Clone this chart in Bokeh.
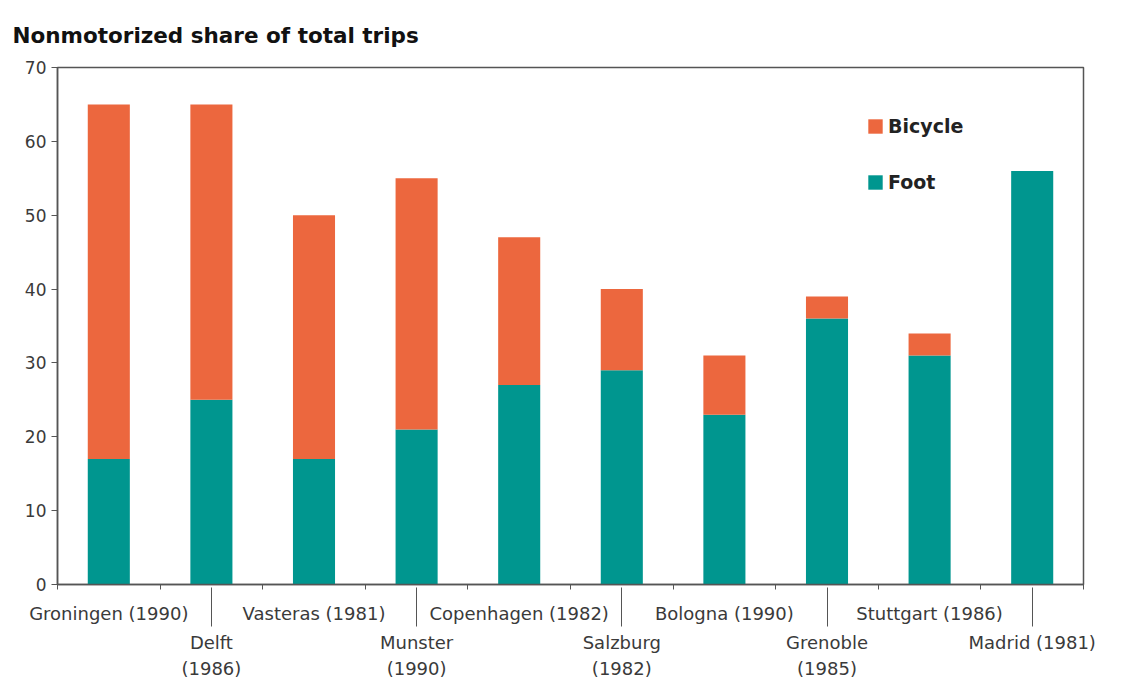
from bokeh.plotting import figure
from bokeh.models import (Range1d, FixedTicker, ColumnDataSource, LinearAxis,
                          Legend, LegendItem)
from bokeh.embed import file_html
from bokeh.resources import INLINE

# ---- data ----
cities = ["Groningen", "Delft", "Vasteras", "Munster", "Copenhagen",
          "Salzburg", "Bologna", "Grenoble", "Stuttgart", "Madrid"]
tick_labels = ["Groningen (1990)", "Delft\n(1986)", "Vasteras (1981)", "Munster\n(1990)",
               "Copenhagen (1982)", "Salzburg\n(1982)", "Bologna (1990)", "Grenoble\n(1985)",
               "Stuttgart (1986)", "Madrid (1981)"]
foot = [17, 25, 17, 21, 27, 29, 23, 36, 31, 56]
bicycle = [48, 40, 33, 34, 20, 11, 8, 3, 3, 0]
series = ["Foot", "Bicycle"]
y_ticks = [0, 10, 20, 30, 40, 50, 60, 70]
title_text = "Nonmotorized share of total trips"

# ---- style ----
FONT = "DejaVu Sans"
TEAL = "#00968F"
ORANGE = "#EC673E"
AXIS = "#555555"
TXT = "#3a3a3a"

n = len(cities)
slot = [i + 0.5 for i in range(n)]   # category slot centres on the x scale
upper = [slot[i] for i in range(0, n, 2)]
lower = [slot[i] for i in range(1, n, 2)]

p = figure(frame_width=1026, frame_height=517,
           x_range=Range1d(0, n),
           y_range=Range1d(y_ticks[0], y_ticks[-1]),
           output_backend="svg", toolbar_location=None,
           min_border_left=57, min_border_right=37,
           min_border_top=67, min_border_bottom=20)

p.background_fill_color = "white"
p.border_fill_color = "white"
p.grid.visible = False
p.outline_line_color = AXIS
p.outline_line_width = 1.5

# bars
src = ColumnDataSource(dict(x=slot, city=cities, Foot=foot, Bicycle=bicycle))
r_foot, r_bike = p.vbar_stack(series, x="x", width=0.41, fill_color=[TEAL, ORANGE],
                              line_color=None, source=src)

# y axis
yax = p.left[0]
yax.ticker = FixedTicker(ticks=y_ticks)
yax.axis_line_color = AXIS
yax.axis_line_width = 1.5
yax.major_tick_line_color = AXIS
yax.major_tick_out = 6
yax.major_tick_in = 0
yax.minor_tick_out = 0
yax.minor_tick_in = 0
yax.major_label_text_font = FONT
yax.major_label_text_font_size = "17px"
yax.major_label_text_color = TXT
yax.major_label_standoff = 5

# x axis A (default, below): short ticks at category boundaries, upper-row labels
xa = p.below[0]
xa.ticker = FixedTicker(ticks=upper, minor_ticks=list(range(n + 1)))
xa.major_label_overrides = {slot[i]: tick_labels[i] for i in range(0, n, 2)}
xa.axis_line_color = AXIS
xa.axis_line_width = 1.5
xa.major_tick_out = 0
xa.major_tick_in = 0
xa.minor_tick_line_color = AXIS
xa.minor_tick_out = 5
xa.minor_tick_in = 0
xa.major_label_standoff = 13
xa.major_label_text_font = FONT
xa.major_label_text_font_size = "18px"
xa.major_label_text_color = TXT

# x axis B: lower-row labels, long ticks reaching up to the frame
xb = LinearAxis(ticker=FixedTicker(ticks=lower, minor_ticks=[]),
                major_label_overrides={slot[i]: tick_labels[i] for i in range(1, n, 2)},
                axis_line_color=None,
                major_tick_line_color=AXIS, major_tick_in=39, major_tick_out=0,
                minor_tick_in=0, minor_tick_out=0,
                major_label_standoff=5,
                major_label_text_font=FONT, major_label_text_font_size="18px",
                major_label_text_color=TXT, major_label_text_line_height=1.25)
p.add_layout(xb, "below")

# title
p.title.text = title_text
p.title.text_font = FONT
p.title.text_font_style = "bold"
p.title.text_font_size = "21.5px"
p.title.text_color = "#111111"
p.title.align = "left"
p.title.vertical_align = "bottom"
p.title.offset = -45
p.title.standoff = 39

legend = Legend(items=[LegendItem(label="Bicycle", renderers=[r_bike]),
                       LegendItem(label="Foot", renderers=[r_foot])],
                location=(809, 391), orientation="vertical",
                glyph_width=18, glyph_height=18, label_height=18,
                spacing=34, padding=0, margin=0, label_standoff=4,
                border_line_color=None, background_fill_alpha=0,
                label_text_font=FONT, label_text_font_style="bold",
                label_text_font_size="19px", label_text_color="#222222")
p.add_layout(legend)

open("out.html", "w").write(file_html(p, INLINE))
